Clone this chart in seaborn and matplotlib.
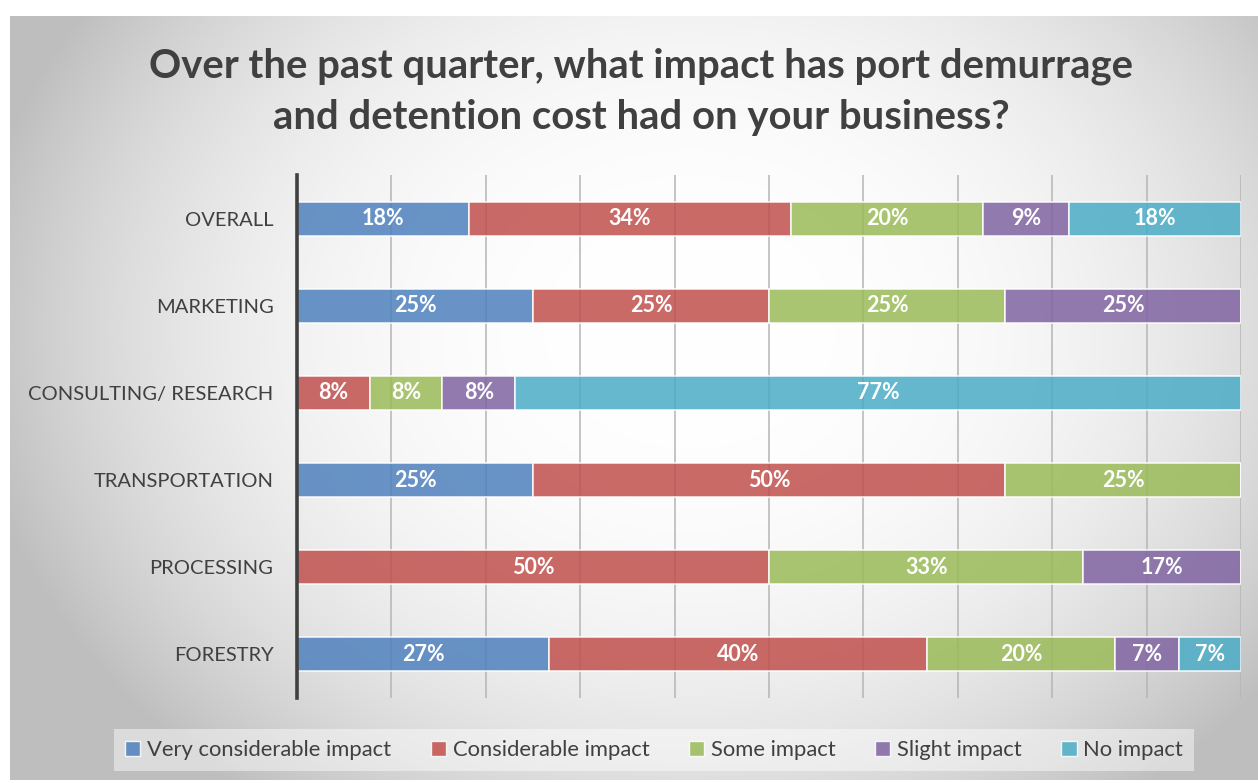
import numpy as np
import pandas as pd
import matplotlib
matplotlib.use("Agg")
import matplotlib.pyplot as plt
from matplotlib.patches import Patch
import seaborn as sns

# Survey responses by segment (share of respondents, %)
categories = ["OVERALL", "MARKETING", "CONSULTING/ RESEARCH",
              "TRANSPORTATION", "PROCESSING", "FORESTRY"]
very_considerable = [18.2, 25.0, 0.0, 25.0, 0.0, 26.7]
considerable = [34.1, 25.0, 7.7, 50.0, 50.0, 40.0]
some_impact = [20.4, 25.0, 7.7, 25.0, 33.3, 20.0]
slight_impact = [9.1, 25.0, 7.7, 0.0, 16.7, 6.7]
no_impact = [18.2, 0.0, 76.9, 0.0, 0.0, 6.6]

series_names = ["Very considerable impact", "Considerable impact",
                "Some impact", "Slight impact", "No impact"]
series_values = [very_considerable, considerable, some_impact,
                 slight_impact, no_impact]
series_colors = ["#4F81BD", "#C0504D", "#9BBB59", "#8064A2", "#4BACC6"]

title_lines = ["Over the past quarter, what impact has port demurrage",
               "and detention cost had on your business?"]

sns.set_theme(style="white")
plt.rcParams["font.family"] = ["Lato", "DejaVu Sans"]

W, H = 1258, 783
fig = plt.figure(figsize=(W / 100, H / 100), dpi=100, facecolor="white")

# Radial grey backdrop of the chart panel
px0, py0, px1, py1 = 10, 16, 1258, 780
bg = fig.add_axes([px0 / W, 1 - py1 / H, (px1 - px0) / W, (py1 - py0) / H], zorder=-10)
gx = np.linspace(px0, px1, 600)
gy = np.linspace(py0, py1, 400)
XX, YY = np.meshgrid(gx, gy)
r = np.sqrt(((XX - 690) / 690) ** 2 + ((YY - 330) / 560) ** 2)
r = np.clip(r, 0, 1.15)
shade = 255 - 57 * r ** 2.6
shade = np.clip(shade, 190, 255) / 255
bg.imshow(np.dstack([shade] * 3), extent=[0, 1, 0, 1], aspect="auto", origin="upper")
bg.set_axis_off()

ax = fig.add_axes([297 / W, 1 - 698 / H, (1241 - 297) / W, (698 - 175) / H])
ax.patch.set_alpha(0)

df = pd.DataFrame({"category": categories})
left = np.zeros(len(categories))
for name, vals, col in zip(series_names, series_values, series_colors):
    df["value"] = vals
    sns.barplot(data=df, x="value", y="category", orient="h", color=col,
                saturation=1, alpha=0.85, width=0.39, left=left,
                edgecolor=(1, 1, 1, 0.65), linewidth=1.2, ax=ax, zorder=2)
    for i, v in enumerate(vals):
        if v > 0:
            ax.text(left[i] + v / 2, i, f"{v:.0f}%", ha="center", va="center",
                    color="white", fontsize=15.5, fontweight="bold", zorder=4)
    left = left + np.array(vals)

ax.set_xlim(0, 100)
ax.set_ylim(5.5, -0.5)
ax.set_xticks(np.arange(0, 101, 10))
ax.set_xticklabels([])
ax.tick_params(axis="x", length=0)
ax.tick_params(axis="y", length=0, pad=17, labelsize=14.5, labelcolor="#404040")
ax.grid(axis="x", color="#b5b5b5", linewidth=1.1, zorder=0)
ax.set_axisbelow(True)
ax.set_xlabel("")
ax.set_ylabel("")
for s in ["top", "right", "bottom"]:
    ax.spines[s].set_visible(False)
ax.spines["left"].set_color("#404040")
ax.spines["left"].set_linewidth(2.6)
ax.spines["left"].set_zorder(5)

for k, (line, ypx) in enumerate(zip(title_lines, [66, 118])):
    fig.text(641 / W, 1 - ypx / H, line, ha="center", va="center", fontsize=28.8,
             fontweight="bold", color="#404040")

handles = [Patch(facecolor=c, alpha=0.85, edgecolor=(1, 1, 1, 0.7), linewidth=1)
           for c in series_colors]
leg = fig.legend(handles, series_names, loc="center",
                 bbox_to_anchor=(654 / W, 1 - 750 / H), ncol=5, frameon=True,
                 fancybox=False, facecolor="white", framealpha=0.45,
                 edgecolor="none", fontsize=15.8, handlelength=0.7,
                 handleheight=0.7, handletextpad=0.3, columnspacing=1.8,
                 borderpad=0.5)
for t in leg.get_texts():
    t.set_color("#404040")

fig.savefig("out.png", dpi=100, facecolor="white")
